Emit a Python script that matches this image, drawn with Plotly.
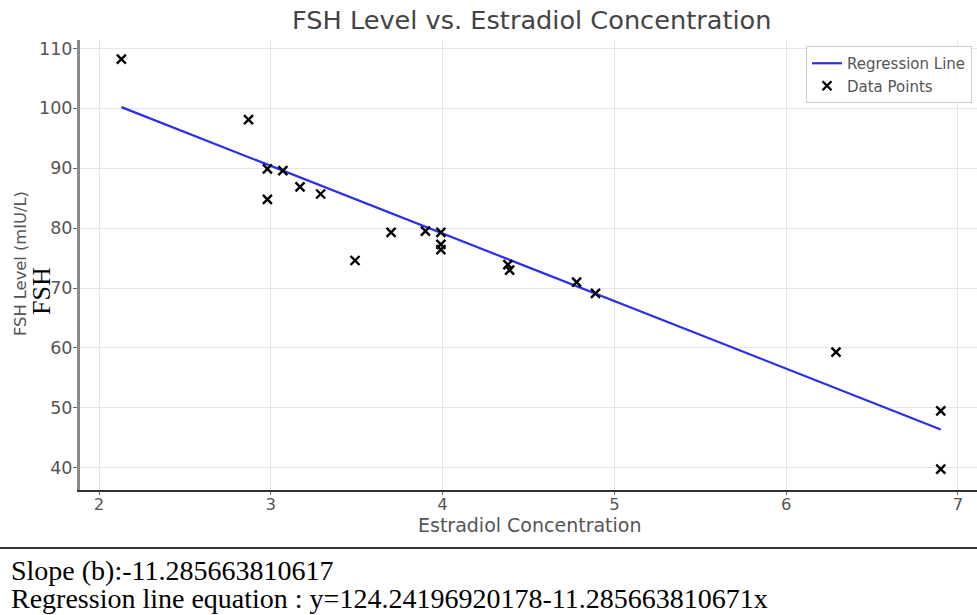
import plotly.graph_objects as go

# Data
estradiol = [2.13, 2.87, 2.98, 2.98, 3.07, 3.17, 3.29, 3.49, 3.70, 3.90,
             3.99, 3.99, 3.99, 4.38, 4.39, 4.78, 4.89, 6.29, 6.90, 6.90]
fsh = [108.2, 98.1, 89.9, 84.8, 89.6, 86.9, 85.7, 74.6, 79.3, 79.5,
       79.3, 77.3, 76.4, 73.9, 73.0, 71.0, 69.1, 59.3, 49.5, 39.8]
reg_x = [2.13, 6.90]
reg_y = [100.2, 46.4]
x_ticks = [2, 3, 4, 5, 6, 7]
y_ticks = [40, 50, 60, 70, 80, 90, 100, 110]

title_text = "FSH Level vs. Estradiol Concentration"
x_label = "Estradiol Concentration"
y_label = "FSH Level (mIU/L)"
note_1 = "Slope (b):-11.285663810617"
note_2 = "Regression line equation : y=124.24196920178-11.285663810671x"

W, H = 977, 615
L, R, T, B = 80, 0, 40, 125
PW, PH = W - L - R, H - T - B


def px(xp):
    return (xp - L) / PW


def py(yp):
    return (H - B - yp) / PH


fig = go.Figure()
fig.add_trace(go.Scatter(
    x=reg_x, y=reg_y, mode="lines", name="Regression Line",
    line=dict(color="rgb(45,45,235)", width=2.2),
))
fig.add_trace(go.Scatter(
    x=estradiol, y=fsh, mode="markers", name="Data Points",
    marker=dict(symbol="x-thin", size=9, color="black",
                line=dict(color="black", width=2.4)),
))

fig.update_xaxes(
    range=[1.889, 7.111], tickvals=x_ticks, showgrid=True,
    gridcolor="#e6e6e6", gridwidth=1, zeroline=False,
    showline=True, linecolor="#333333", linewidth=2,
    ticks="outside", ticklen=3, tickcolor="#666666",
    tickfont=dict(family="DejaVu Sans", size=16.5, color="#555555"),
    ticklabelstandoff=-5,
)
fig.update_yaxes(
    range=[36.3, 111.4], tickvals=y_ticks, showgrid=True,
    gridcolor="#e6e6e6", gridwidth=1, zeroline=False,
    showline=True, linecolor="#8a8a8a", linewidth=3,
    ticks="outside", ticklen=4, tickcolor="#666666",
    tickfont=dict(family="DejaVu Sans", size=17.5, color="#555555"),
    ticklabelstandoff=-3,
)

annotations = [
    dict(text=title_text, x=px(531), y=py(20), xref="paper", yref="paper",
         showarrow=False, xanchor="center", yanchor="middle",
         font=dict(family="DejaVu Sans", size=25.6, color="#444444")),
    dict(text=x_label, x=px(530), y=py(525), xref="paper", yref="paper",
         showarrow=False, xanchor="center", yanchor="middle",
         font=dict(family="DejaVu Sans", size=19, color="#555555")),
    dict(text=y_label, x=px(20), y=py(264), xref="paper", yref="paper",
         showarrow=False, xanchor="center", yanchor="middle", textangle=-90,
         font=dict(family="DejaVu Sans", size=16.3, color="#555555")),
    dict(text="FSH", x=px(41), y=py(291), xref="paper", yref="paper",
         showarrow=False, xanchor="center", yanchor="middle", textangle=-90,
         font=dict(family="Liberation Serif", size=26, color="black")),
    dict(text=note_1, x=px(9), y=py(570), xref="paper", yref="paper",
         showarrow=False, xanchor="left", yanchor="middle",
         font=dict(family="Liberation Serif", size=28, color="black")),
    dict(text=note_2, x=px(9), y=py(598), xref="paper", yref="paper",
         showarrow=False, xanchor="left", yanchor="middle",
         font=dict(family="Liberation Serif", size=28, color="black")),
]

shapes = [
    dict(type="line", xref="paper", yref="paper",
         x0=px(0), x1=px(977), y0=py(548), y1=py(548),
         line=dict(color="#333333", width=2)),
]

fig.update_layout(
    width=W, height=H,
    margin=dict(l=L, r=R, t=T, b=B, autoexpand=False),
    paper_bgcolor="white", plot_bgcolor="white",
    showlegend=True,
    legend=dict(x=px(972), y=py(46), xanchor="right", yanchor="top",
                bordercolor="#cccccc", borderwidth=1, bgcolor="white",
                font=dict(family="DejaVu Sans", size=15, color="#555555"),
                tracegroupgap=0, itemwidth=30),
    annotations=annotations,
    shapes=shapes,
)

fig.write_html(
    "out.html",
    config={"displayModeBar": False},
    post_script="document.body.style.margin='0px';document.body.style.padding='0px';document.body.style.overflow='hidden';",
)
